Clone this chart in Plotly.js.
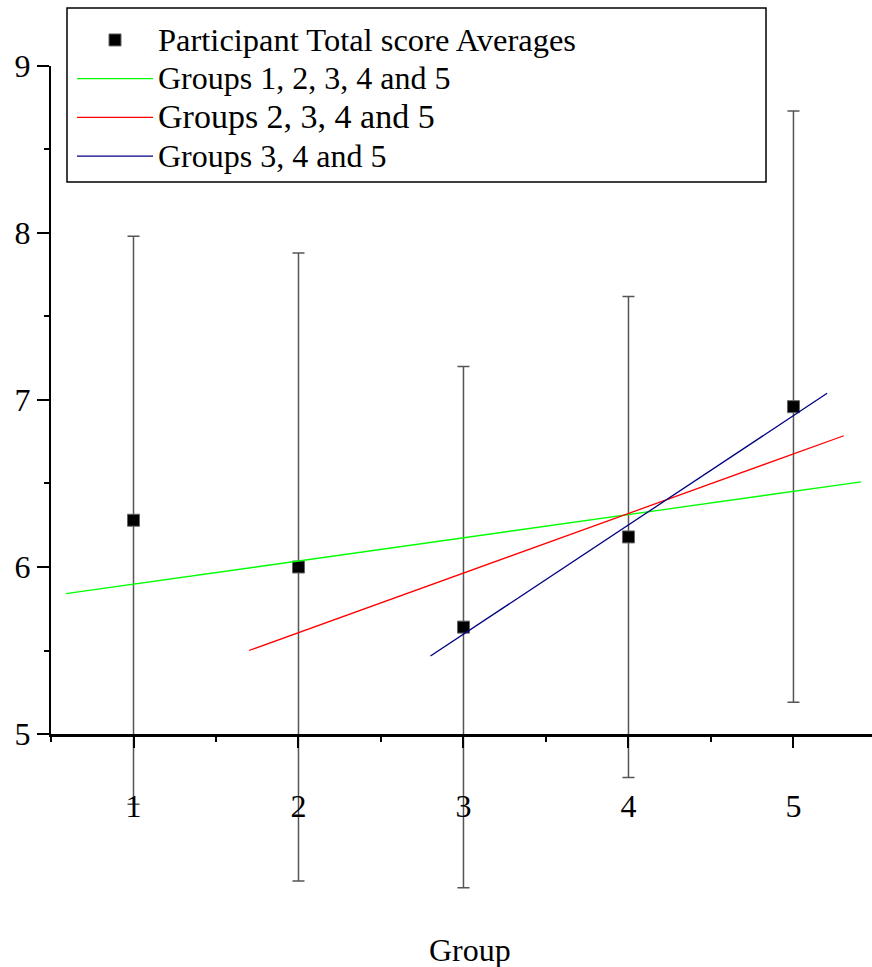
<!DOCTYPE html>
<html>
<head>
<meta charset="utf-8">
<script src="https://cdn.plot.ly/plotly-3.0.1.min.js"></script>
<style>
  html, body { margin: 0; padding: 0; background: #ffffff; }
  #chart { width: 872px; height: 967px; }
</style>
</head>
<body>
<div id="chart"></div>
<script>
// ---- data ----
const groups = [1, 2, 3, 4, 5];
const averages = [6.28, 6.00, 5.64, 6.18, 6.96];
const errors = [1.70, 1.88, 1.56, 1.44, 1.77];

const fitAllX = [0.59, 5.41];
const fitAllY = [5.84, 6.51];
const fit2to5X = [1.70, 5.305];
const fit2to5Y = [5.50, 6.786];
const fit3to5X = [2.80, 5.204];
const fit3to5Y = [5.467, 7.04];

const seriesNames = [
  'Participant Total score Averages',
  'Groups 1, 2, 3, 4 and 5',
  'Groups 2, 3, 4 and 5',
  'Groups 3, 4 and 5'
];

const xTickVals = [1, 2, 3, 4, 5];
const xTickText = ['1', '2', '3', '4', '5'];
const yTickVals = [5, 6, 7, 8, 9];
const yTickText = ['5', '6', '7', '8', '9'];
const xTitle = 'Group';

const FONT = 'Liberation Serif, Times New Roman, serif';
const big = (t, px) => '<span style="font-size:' + px + 'px">' + t + '</span>';

const traces = [
  {
    type: 'scatter', mode: 'markers',
    name: big(seriesNames[0], 32.5),
    x: groups, y: averages,
    marker: { symbol: 'square', size: 12, color: '#000000', line: { color: '#666666', width: 1 } },
    error_y: { type: 'data', array: errors, visible: true, color: '#555555', thickness: 1.5, width: 6 },
    xaxis: 'x', yaxis: 'y'
  },
  {
    type: 'scatter', mode: 'lines',
    name: big(seriesNames[1], 32),
    x: fitAllX, y: fitAllY,
    line: { color: '#00ff00', width: 1.3 },
    xaxis: 'x', yaxis: 'y2'
  },
  {
    type: 'scatter', mode: 'lines',
    name: big(seriesNames[2], 34),
    x: fit2to5X, y: fit2to5Y,
    line: { color: '#ff0000', width: 1.3 },
    xaxis: 'x', yaxis: 'y2'
  },
  {
    type: 'scatter', mode: 'lines',
    name: big(seriesNames[3], 32),
    x: fit3to5X, y: fit3to5Y,
    line: { color: '#000080', width: 1.3 },
    xaxis: 'x', yaxis: 'y2'
  }
];

const layout = {
  width: 872, height: 967,
  margin: { l: 51, r: 0, t: 0, b: 67 },
  paper_bgcolor: '#ffffff', plot_bgcolor: 'rgba(0,0,0,0)',
  font: { family: FONT, size: 32, color: '#000000' },
  showlegend: true,
  legend: {
    x: 0.02558, y: 0.9827, xanchor: 'left', yanchor: 'top',
    bgcolor: 'rgba(0,0,0,0)', borderwidth: 0,
    font: { family: FONT, size: 27.5, color: '#000000' },
    itemwidth: 76,
    tracegroupgap: 0
  },
  shapes: [
    { type: 'rect', xref: 'paper', yref: 'paper', x0: 0.0195, x1: 0.8709, y0: 0.79778, y1: 0.99111,
      line: { color: '#000000', width: 1.5 }, fillcolor: 'rgba(0,0,0,0)' }
  ],
  annotations: [
    { text: xTitle, xref: 'paper', yref: 'paper', x: 0.5104, y: -0.05556,
      xanchor: 'center', yanchor: 'middle', showarrow: false,
      font: { family: FONT, size: 32, color: '#000000' } }
  ],
  xaxis: {
    range: [0.5, 5.476],
    anchor: 'y2',
    showline: true, linecolor: '#000000', linewidth: 2.5,
    showgrid: false, zeroline: false,
    tickmode: 'array', tickvals: xTickVals, ticktext: xTickText,
    ticks: 'outside', ticklen: 11, tickwidth: 2, tickcolor: '#000000',
    minor: { dtick: 0.5, tick0: 0.5, ticks: 'outside', ticklen: 5, tickwidth: 2, tickcolor: '#000000', showgrid: false },
    tickfont: { family: FONT, size: 32, color: '#000000' },
    ticklabelstandoff: 31,
    automargin: false
  },
  yaxis: {
    range: [4.006, 9.3952],
    domain: [0, 1],
    visible: false,
    fixedrange: true
  },
  yaxis2: {
    range: [5, 9],
    domain: [0.18444, 0.92667],
    anchor: 'x',
    showline: true, linecolor: '#000000', linewidth: 2,
    showgrid: false, zeroline: false,
    tickmode: 'array', tickvals: yTickVals, ticktext: yTickText,
    ticks: 'outside', ticklen: 12, tickwidth: 2, tickcolor: '#000000',
    minor: { dtick: 0.5, tick0: 5.5, ticks: 'outside', ticklen: 5, tickwidth: 2, tickcolor: '#000000', showgrid: false },
    tickfont: { family: FONT, size: 32, color: '#000000' },
    automargin: false
  }
};

Plotly.newPlot('chart', traces, layout, { displayModeBar: false, staticPlot: true });
</script>
</body>
</html>
